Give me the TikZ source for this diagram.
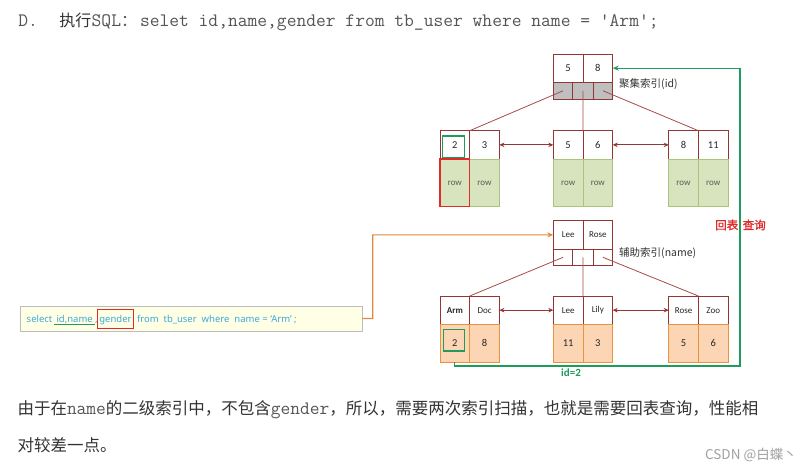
\documentclass[tikz,border=0pt]{standalone}
\usepackage{fontspec}
\setmainfont{Carlito}
\newfontfamily\cjk{Noto Sans CJK SC}
\newfontfamily\cjkb[FakeBold=1.2]{Noto Sans CJK SC}
\newfontfamily\sqlfont{Noto Sans}
\usetikzlibrary{arrows.meta,calc}
\definecolor{dred}{HTML}{943634}
\definecolor{lred}{HTML}{A84C4A}
\definecolor{grayfill}{HTML}{BFBFBF}
\definecolor{rowfill}{HTML}{D7E4BD}
\definecolor{rowline}{HTML}{A9C47F}
\definecolor{ofill}{HTML}{FCD5B4}
\definecolor{oline}{HTML}{E8913E}
\definecolor{hgreen}{HTML}{1F9B5E}
\definecolor{hred}{HTML}{E02B2B}
\definecolor{sqltxt}{HTML}{3FA7DA}
\definecolor{sqlfill}{HTML}{FFFFE6}
\definecolor{sqlline}{HTML}{BDBDBD}
\definecolor{oconn}{HTML}{E08A3C}
\definecolor{tdark}{HTML}{333333}
\definecolor{mgray}{HTML}{555555}
\definecolor{wm}{HTML}{A0A0A0}
\tikzset{
  cellbase/.style={rectangle, inner sep=0pt, outer sep=0pt, anchor=north west, line width=0.8pt, text=black!85},
  key/.style={cellbase, draw=dred, fill=white, minimum width=29.7pt, minimum height=28.3pt, font=\fontsize{10.5}{12}\selectfont},
  namekey/.style={key, font=\fontsize{9}{11}\selectfont},
  ptr/.style={cellbase, draw=dred, minimum height=17pt},
  rowcell/.style={cellbase, draw=rowline, fill=rowfill, minimum width=29.7pt, minimum height=47.7pt, font=\fontsize{9}{11}\selectfont, text=black!65},
  valcell/.style={cellbase, draw=oline, fill=ofill, minimum width=29.7pt, minimum height=38pt, font=\fontsize{10.5}{12}\selectfont},
  tline/.style={draw=lred, line width=0.8pt},
  link/.style={draw=dred, line width=0.8pt, {Stealth[length=5pt,width=4.5pt]}-{Stealth[length=5pt,width=4.5pt]}},
  hbox/.style={draw=hgreen, line width=1.3pt},
  txt/.style={anchor=base west, inner sep=0pt, outer sep=0pt},
  sqltext/.style={txt, text=sqltxt, font=\sqlfont\fontsize{9.5}{11}\selectfont},
  lab/.style={anchor=west, inner sep=0pt, text=tdark, font=\cjk\fontsize{10.5}{12}\selectfont},
  hmono/.style={txt, text=mgray, font=\ttfamily\fontsize{19}{22}\selectfont},
}
\begin{document}
\begin{tikzpicture}[x=1pt,y=-1pt]
\fill[white] (0,0) rectangle (810,471);
\useasboundingbox (0,0) rectangle (810,471);

% header
\node[hmono] (hD) at (18.3,26.7) {D.};
\node[txt, text=tdark, font=\cjk\fontsize{16}{20}\selectfont] (hexe) at (59.3,26.7) {执行};
\node[hmono] (hsql) at (91.7,26.7) {SQL};
\node[txt, text=mgray, font=\cjk\fontsize{16}{20}\selectfont] (hcol) at (hsql.base east) {：};
\node[hmono] (hq) at (140,26.7) {selet id,name,gender from tb\_user where name = {\char"27}Arm{\char"27};};

% clustered index root
\node[key] (c5) at (553.3,54) {5};
\node[key] (c8) at (583,54) {8};
\node[ptr, fill=grayfill, minimum width=19.4pt] (cp1) at (553.3,82.3) {};
\node[ptr, fill=grayfill, minimum width=20.6pt] (cp2) at (572.7,82.3) {};
\node[ptr, fill=grayfill, minimum width=19.4pt] (cp3) at (593.3,82.3) {};
\node[lab] (lab1) at (619,84.3) {聚集索引(id)};

% clustered leaves
\node[key] (k2) at (440,130.7) {2};
\node[key] (k3) at (469.7,130.7) {3};
\node[key] (k5) at (553.3,130.7) {5};
\node[key] (k6) at (583,130.7) {6};
\node[key] (k8) at (668.7,130.7) {8};
\node[key] (k11) at (698.4,130.7) {11};
\node[rowcell] (r2) at (440,159) {row};
\node[rowcell] (r3) at (469.7,159) {row};
\node[rowcell] (r5) at (553.3,159) {row};
\node[rowcell] (r6) at (583,159) {row};
\node[rowcell] (r8) at (668.7,159) {row};
\node[rowcell] (r11) at (698.4,159) {row};

\draw[tline] (cp1.center) -- (k2.north east);
\draw[tline] (cp2.center) -- (k5.north east);
\draw[tline] (cp3.center) -- (k8.north east);
\draw[link] (k3.east) -- (k5.west);
\draw[link] (k6.east) -- (k8.west);

\draw[hbox] ($(k2.north west)+(2.7,5.3)$) rectangle ($(k2.south east)+(-5.4,-1.7)$);
\draw[draw=hred, line width=1.3pt] (r2.north west) rectangle (r2.south east);

% secondary index root
\node[namekey] (sLee) at (553.3,220.7) {Lee};
\node[namekey] (sRose) at (583,220.7) {Rose};
\node[ptr, fill=white, minimum width=19.4pt, minimum height=16.7pt] (sp1) at (553.3,249) {};
\node[ptr, fill=white, minimum width=20.6pt, minimum height=16.7pt] (sp2) at (572.7,249) {};
\node[ptr, fill=white, minimum width=19.4pt, minimum height=16.7pt] (sp3) at (593.3,249) {};
\node[lab] (lab2) at (619,253.3) {辅助索引(name)};

% secondary leaves
\node[namekey, font=\bfseries\fontsize{9}{11}\selectfont] (nArm) at (440,296) {Arm};
\node[namekey] (nDoc) at (469.7,296) {Doc};
\node[namekey] (nLee) at (553.3,296) {Lee};
\node[namekey] (nLily) at (583,296) {Lily};
\node[namekey] (nRose) at (668.7,296) {Rose};
\node[namekey] (nZoo) at (698.4,296) {Zoo};
\node[valcell] (v2) at (440,324.3) {2};
\node[valcell] (v8) at (469.7,324.3) {8};
\node[valcell] (v11) at (553.3,324.3) {11};
\node[valcell] (v3) at (583,324.3) {3};
\node[valcell] (v5) at (668.7,324.3) {5};
\node[valcell] (v6) at (698.4,324.3) {6};

\draw[tline] (sp1.center) -- (nArm.north east);
\draw[tline] (sp2.center) -- (nLee.north east);
\draw[tline] (sp3.center) -- (nRose.north east);
\draw[link] (nDoc.east) -- (nLee.west);
\draw[link] (nLily.east) -- (nRose.west);

\draw[hbox] ($(v2.north west)+(3.3,5)$) rectangle ($(v2.south east)+(-5.4,-11.3)$);

% back-to-table connector
\coordinate (gc) at (740,366);
\draw[draw=hgreen, line width=1.2pt, -{Stealth[length=6pt,width=5pt]}] (v2.south) |- (gc) |- (c8.east);
\node[text=hred, font=\cjkb\fontsize{11.5}{14}\selectfont, inner sep=0pt] (hb) at (740.5,225) {回表\hspace{4.5pt}查询};
\node[text=hgreen, font=\bfseries\fontsize{11}{13}\selectfont, inner sep=0pt] (idl) at (571,372.3) {id=2};

% SQL box
\node[cellbase, draw=sqlline, fill=sqlfill, minimum width=342.3pt, minimum height=25pt] (sql) at (20,306) {};
\node[sqltext] (qsel) at (26.7,322.5) {select};
\node[sqltext, minimum width=40.7pt] (qid) at (54.3,322.5) {id,name};
\node[sqltext] (qc) at (95.2,322.5) {,};
\node[cellbase, draw=hred, line width=1pt, minimum width=35.6pt, minimum height=19pt, text height=8.6pt, text depth=1pt, text=sqltxt, font=\sqlfont\fontsize{9.5}{11}\selectfont] (qgen) at (97.7,309.3) {gender};
\node[sqltext] (qrest) at (137,322.5) {from\ \ tb\_user\ \ where\ \ name = ‘Arm’ ;};
\draw[draw=hgreen, line width=1.3pt] ($(qid.base west)+(0,2.2)$) -- ($(qid.base east)+(0,2.2)$);

\coordinate (ob) at (372.7,234.85);
\draw[draw=oconn, line width=1.2pt, -{Stealth[length=6pt,width=5pt]}] (sql.east) -| (ob) -- (sLee.west);

% body text
\node[txt, text=tdark, font=\cjk\fontsize{16.5}{20}\selectfont] (b1) at (17.5,414.6) {由于在{\ttfamily\fontsize{18.9}{20}\selectfont\color{mgray}name}的二级索引中，不包含{\ttfamily\fontsize{18.9}{20}\selectfont\color{mgray}gender}，所以，需要两次索引扫描，也就是需要回表查询，性能相};
\node[txt, text=tdark, font=\cjk\fontsize{16.5}{20}\selectfont] (b2) at (17.5,451.3) {对较差一点。};
\node[anchor=base east, inner sep=0pt, text=wm, font=\cjk\fontsize{13.5}{16}\selectfont] (wmk) at (797,459.5) {CSDN @白蝶丶};
\end{tikzpicture}
\end{document}
